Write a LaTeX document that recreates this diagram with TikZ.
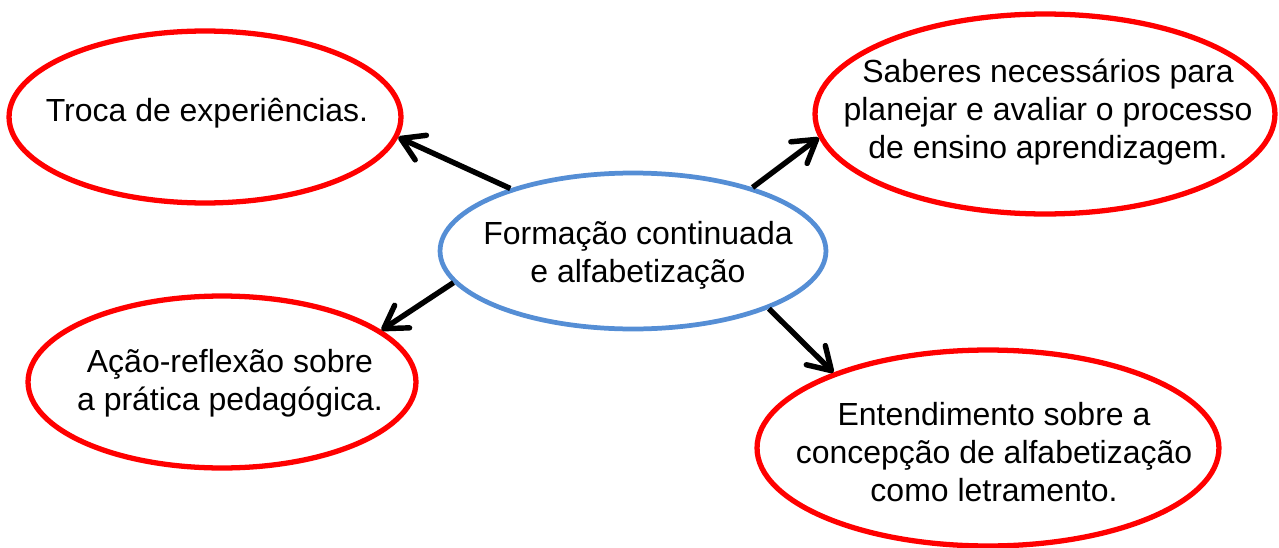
\documentclass[tikz,border=0pt]{standalone}
\usepackage{fontspec}
\setmainfont{Liberation Sans}
\usetikzlibrary{shapes.geometric,arrows.meta}
\definecolor{hubblue}{RGB}{85,142,213}
\tikzset{bubble/.style={ellipse,draw=red,line width=3pt,inner sep=0pt},
hub/.style={bubble,draw=hubblue,line width=2.7pt},
lbl/.style={align=center,inner sep=0pt,font=\fontsize{18.2}{21.6}\selectfont},
link/.style={line width=3.1pt,-{Straight Barb[length=0.44cm,width=0.54cm,round]}}}

\begin{document}
\begin{tikzpicture}[x=0.02cm,y=-0.02cm]
\useasboundingbox (0,0) rectangle (1279,548);
\node[hub,minimum width=7.72cm,minimum height=3.12cm] (form) at (633,251) {};
\node[bubble,minimum width=7.84cm,minimum height=3.44cm] (troca) at (205,117) {};
\node[bubble,minimum width=9.2cm,minimum height=4cm] (saberes) at (1045,114) {};
\node[bubble,minimum width=7.76cm,minimum height=3.44cm] (acao) at (222,382) {};
\node[bubble,minimum width=9.24cm,minimum height=3.92cm] (entend) at (988,448) {};
\node[lbl] (formtxt) at (638,255) {Formação continuada\\e alfabetização};
\node[lbl] (trocatxt) at (207,113) {Troca de experiências.};
\node[lbl] (saberestxt) at (1048,112) {Saberes necessários para\\planejar e avaliar o processo\\de ensino aprendizagem.};
\node[lbl] (acaotxt) at (230,383) {Ação-reflexão sobre\\a prática pedagógica.};
\node[lbl] (entendtxt) at (994,452) {Entendimento sobre a\\concepção de alfabetização\\como letramento.};
\draw[link] (form.153) -- (troca.-6);
\draw[link] (form.28) -- (saberes.-174);
\draw[link] (form.-170) -- (acao.18);
\draw[link] (form.-23) -- (entend.154);
\end{tikzpicture}
\end{document}
